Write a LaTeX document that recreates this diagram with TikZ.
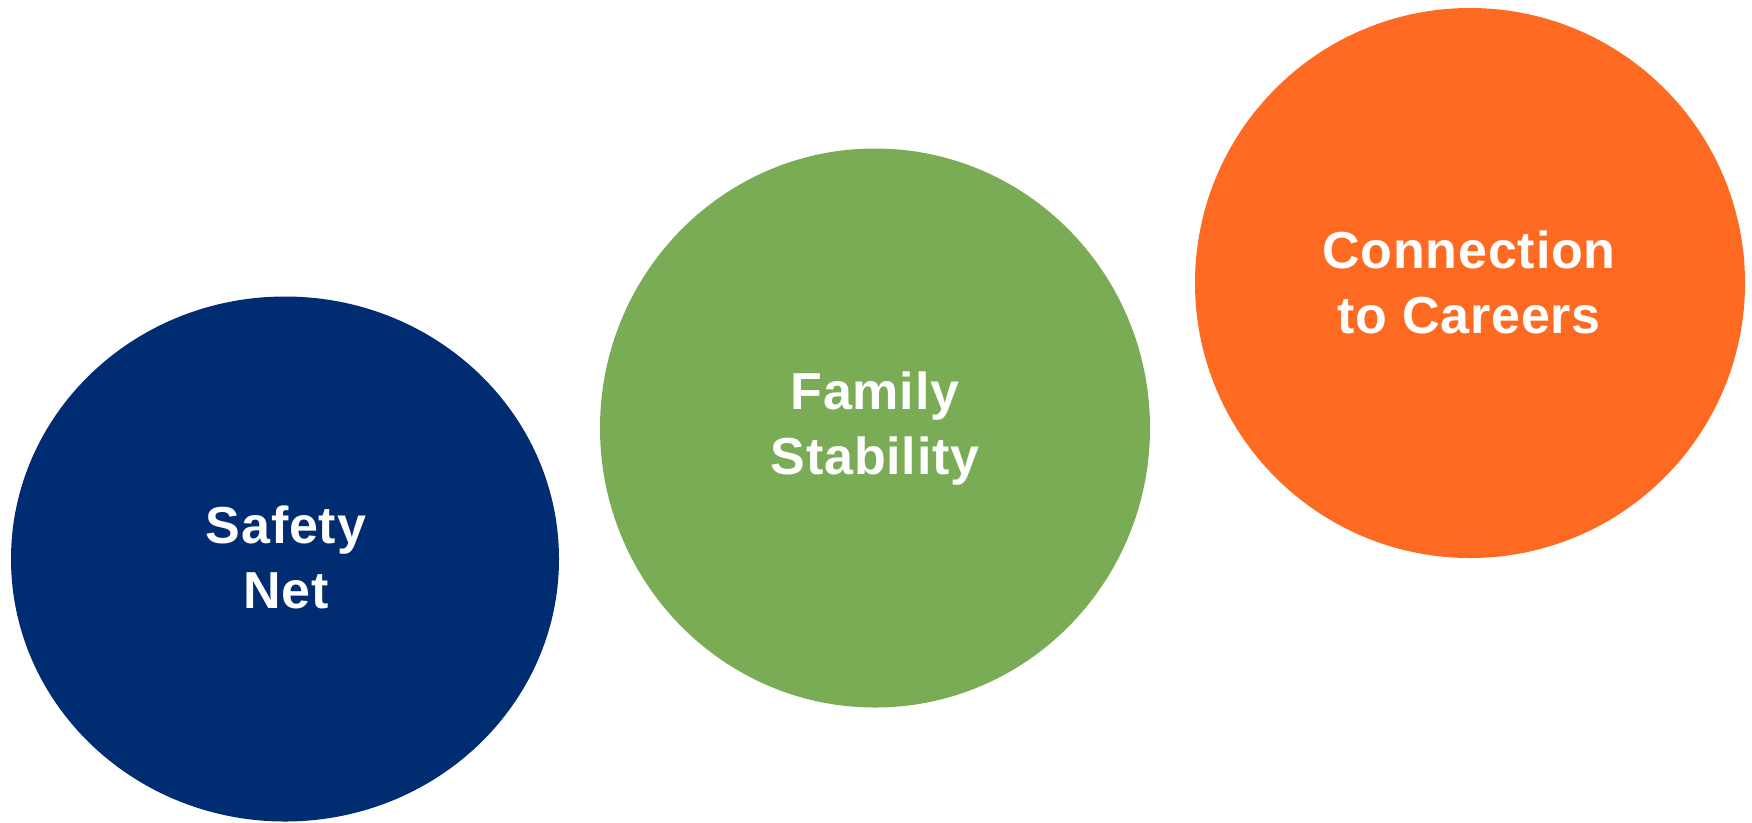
\documentclass[tikz,border=0pt]{standalone}
\usepackage{fontspec}
\setmainfont{Liberation Sans}[LetterSpace=1.5]
\usetikzlibrary{shapes}
\definecolor{netblue}{RGB}{0,45,114}
\definecolor{famgreen}{RGB}{122,172,86}
\definecolor{careerorange}{RGB}{255,106,34}
\tikzstyle{bubble} = [ellipse, inner sep=0pt, text=white, align=center,
    font=\bfseries\fontsize{14.8}{18.5}\selectfont]
\tikzstyle{round} = [circle, inner sep=0pt, text=white, align=center,
    font=\bfseries\fontsize{14.8}{18.5}\selectfont]

\begin{document}
\begin{tikzpicture}
    \useasboundingbox (0,0) rectangle (17.52,-8.22);
    % Place nodes

    \node [bubble, fill=netblue, minimum width=5.48cm, minimum height=5.25cm] (safety) at (2.85,-5.59) {};
    \node [bubble, fill=famgreen, minimum width=5.50cm, minimum height=5.59cm] (family) at (8.75,-4.28) {};
    \node [round, fill=careerorange, minimum size=5.50cm] (careers) at (14.70,-2.83) {};

    % Labels
    \node [bubble] (safetytext) at (2.86,-5.57) {Safety\\Net};
    \node [bubble] (familytext) at (8.75,-4.29) {Family\\Stability};
    \node [round] (careerstext) at (14.69,-2.82) {Connection\\to Careers};
\end{tikzpicture}
\end{document}
